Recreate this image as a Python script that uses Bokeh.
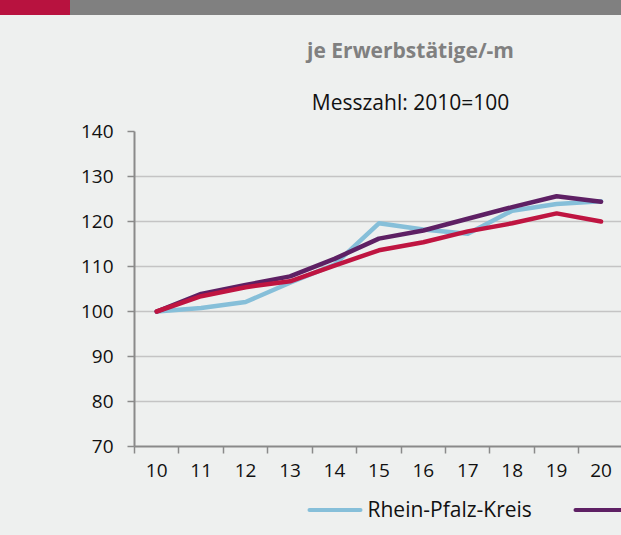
from bokeh.plotting import figure
from bokeh.layouts import column
from bokeh.models import FixedTicker, Range1d, Div
from bokeh.core.properties import value
from bokeh.embed import file_html
from bokeh.resources import INLINE

# ---- data ----
years = ["10", "11", "12", "13", "14", "15", "16", "17", "18", "19", "20"]
rhein_pfalz_kreis = [100.0, 100.8, 102.1, 106.4, 110.4, 119.6, 118.2, 117.3, 122.4, 123.9, 124.5]
series_purple = [100.0, 103.9, 105.9, 107.8, 111.7, 116.2, 118.0, 120.6, 123.2, 125.6, 124.4]
series_red = [100.0, 103.4, 105.4, 106.7, 110.2, 113.6, 115.4, 117.8, 119.6, 121.8, 120.0]
y_ticks = [70, 80, 90, 100, 110, 120, 130, 140]
title_text = "je Erwerbstätige/-m"
subtitle_text = "Messzahl: 2010=100"
legend_label = "Rhein-Pfalz-Kreis"

# ---- style ----
BG = "#eef0ef"
AXIS = "#8a8a8a"
GRID = "#c4c4c4"
BLUE = "#86bfd9"
PURPLE = "#5e2064"
RED = "#bf1541"
BAR_RED = "#b8123f"
BAR_GRAY = "#808080"
FONT = "Open Sans"
W = 621
LEFT = 134          # left border shared by all stacked figures
TXT_SHIFT = 9       # baseline correction for alphabetic text
SPLIT_TOP = 117     # page y where the chart figure starts
SPLIT_BOTTOM = 490  # page y where the legend strip starts


def canvas(top, bottom):
    """A transparent drawing strip whose data coordinates are page pixels."""
    f = figure(width=W, height=bottom - top, x_range=Range1d(LEFT, W), y_range=Range1d(bottom, top),
               x_axis_type=None, y_axis_type=None, output_backend="svg",
               toolbar_location=None, title=None,
               min_border_left=LEFT, min_border_right=0, min_border_top=0, min_border_bottom=0,
               background_fill_color=None, border_fill_color=None, outline_line_color=None)
    return f


# ---- top bar ----
bar = Div(text="", width=W, height=15, margin=0,
          styles={"background": f"linear-gradient(90deg, {BAR_RED} 0px, {BAR_RED} 70px, {BAR_GRAY} 70px, {BAR_GRAY} 100%)"})

# ---- header (titles) ----
head = canvas(15, SPLIT_TOP)
head.text(x=[410], y=[58 - TXT_SHIFT], text=[title_text], text_align="center", text_baseline="alphabetic",
          text_font=value(FONT), text_font_size="21px", text_font_style="bold",
          text_color="#808080")
head.text(x=[410], y=[110 - TXT_SHIFT], text=[subtitle_text], text_align="center", text_baseline="alphabetic",
          text_font=value(FONT), text_font_size="21px", text_color="#111111")

# ---- main chart ----
x = [int(v) for v in years]
X0, X1 = 9.5, 20.46
p = figure(width=W, height=SPLIT_BOTTOM - SPLIT_TOP, x_range=Range1d(X0, X1), y_range=Range1d(70, 140),
           output_backend="svg", toolbar_location=None, title=None,
           min_border_left=LEFT, min_border_top=131 - SPLIT_TOP, min_border_bottom=SPLIT_BOTTOM - 446,
           min_border_right=0,
           background_fill_color=BG, border_fill_color=BG, outline_line_color=None)

p.yaxis.ticker = FixedTicker(ticks=y_ticks)
p.yaxis.axis_line_color = AXIS
p.yaxis.axis_line_width = 2
p.yaxis.major_tick_out = 7
p.yaxis.major_tick_in = 0
p.yaxis.major_tick_line_color = AXIS
p.yaxis.major_tick_line_width = 1.5
p.yaxis.minor_tick_line_color = None
p.yaxis.major_label_standoff = 14
p.yaxis.major_label_text_font = FONT
p.yaxis.major_label_text_font_size = "19px"
p.yaxis.major_label_text_color = "#111111"

p.xaxis.ticker = FixedTicker(ticks=x, minor_ticks=[v - 0.5 for v in x] + [x[-1] + 0.5])
p.xaxis.axis_line_color = AXIS
p.xaxis.axis_line_width = 2
p.xaxis.major_tick_line_color = None
p.xaxis.major_tick_out = 0
p.xaxis.major_tick_in = 0
p.xaxis.minor_tick_out = 7
p.xaxis.minor_tick_in = 0
p.xaxis.minor_tick_line_color = AXIS
p.xaxis.minor_tick_line_width = 1.5
p.xaxis.major_label_standoff = 10
p.xaxis.major_label_text_font = FONT
p.xaxis.major_label_text_font_size = "19px"
p.xaxis.major_label_text_color = "#111111"

p.xgrid.visible = False
p.ygrid.ticker = FixedTicker(ticks=y_ticks)
p.ygrid.grid_line_color = GRID
p.ygrid.grid_line_width = 1.5

for ys, col in [(rhein_pfalz_kreis, BLUE), (series_purple, PURPLE), (series_red, RED)]:
    p.line(x, ys, line_color=col, line_width=4.5, line_cap="round", line_join="round")

# ---- legend strip ----
leg = canvas(SPLIT_BOTTOM, 535)
leg.segment(x0=[309], y0=[509.5], x1=[360], y1=[509.5], line_color=BLUE, line_width=4, line_cap="round")
leg.text(x=[367], y=[517 - TXT_SHIFT], text=[legend_label], text_align="left", text_baseline="alphabetic",
         text_font=value(FONT), text_font_size="21px", text_color="#111111")
leg.segment(x0=[575], y0=[509.5], x1=[640], y1=[509.5], line_color=PURPLE, line_width=4, line_cap="round")

layout = column(bar, head, p, leg, spacing=0, styles={"background-color": BG})
open("out.html", "w").write(file_html(layout, INLINE))
